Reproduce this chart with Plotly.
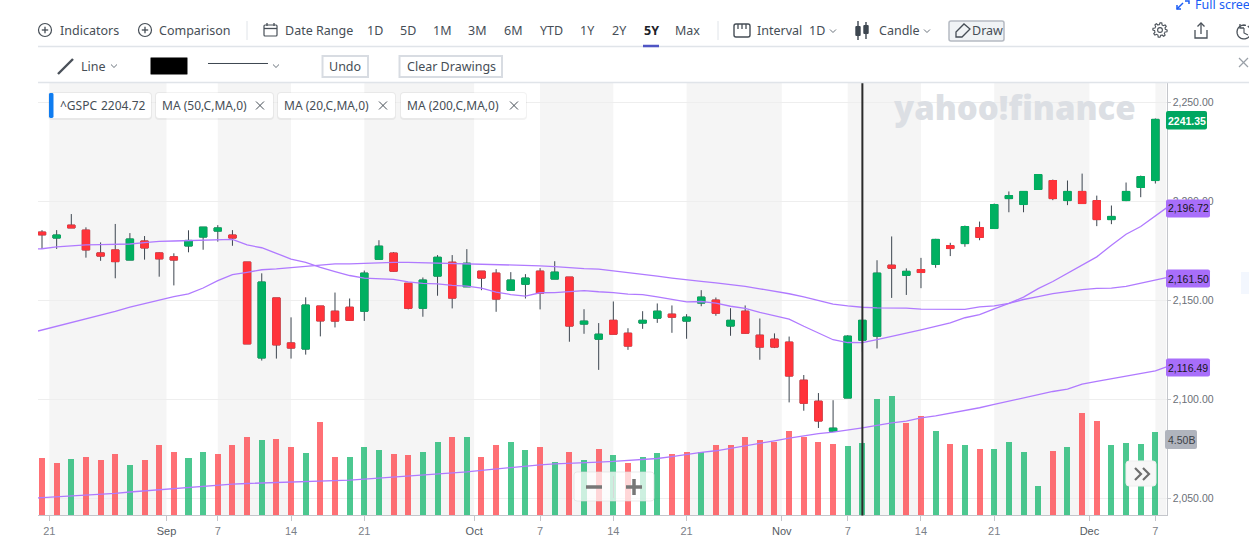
import math
import plotly.graph_objects as go

W, H = 1249, 555

# Values, one per trading day (19 Aug - 7 Dec 2016).
opens = [2184.5, 2181.5, 2188, 2185.5, 2174, 2175.5, 2170.4, 2180, 2174, 2172, 2177.5, 2182, 2185, 2183, 2169.4,
         2121, 2151.3, 2128.6, 2125.5, 2147.2, 2144.6, 2146.6, 2144.6, 2170.8, 2173.9, 2158.7, 2146.1, 2162.3,
         2169.3, 2156.9, 2164.8, 2163.8, 2155.2, 2158.2, 2164.8, 2160.8, 2161.8, 2138.1, 2130.5, 2140, 2133.5,
         2138.6, 2141.1, 2143.1, 2139.6, 2148.7, 2150.2, 2137.1, 2144.6, 2132.5, 2130.5, 2129, 2109.8, 2099.2,
         2084.1, 2100.8, 2130, 2132, 2167.8, 2162.7, 2165.6, 2168.2, 2177.7, 2178.7, 2186.8, 2186.3, 2201.4,
         2198.4, 2206, 2210.5, 2200.4, 2205, 2200.4, 2190.8, 2200.4, 2207, 2210.5]
highs = [2185.5, 2185.5, 2193.6, 2186.9, 2179.3, 2188.6, 2184, 2182.5, 2174.3, 2173.8, 2185.4, 2187, 2188, 2185.5,
         2169.4, 2163.7, 2151.3, 2141.5, 2151.6, 2147.2, 2154, 2151, 2165.1, 2180.4, 2174.4, 2158.7, 2161.6,
         2172.9, 2172.9, 2175.9, 2164.8, 2165.8, 2164.3, 2163.3, 2166.3, 2169.8, 2161.8, 2145.6, 2138.6, 2149.5,
         2136, 2144.6, 2148.5, 2147.5, 2143.1, 2155.2, 2151.5, 2146.1, 2147.5, 2140.9, 2133.4, 2131.8, 2112.4,
         2103.3, 2099.7, 2132.5, 2140, 2170.3, 2182.3, 2166.2, 2171.5, 2181.1, 2179.1, 2187.8, 2189.8, 2198.9,
         2205, 2205, 2213.5, 2211, 2210.5, 2214, 2202.9, 2197.9, 2209.5, 2213, 2241.8]
lows = [2176, 2176, 2186.6, 2171.6, 2170, 2161.2, 2170.4, 2170.6, 2162, 2157.6, 2174.3, 2175.6, 2179.7, 2177.6,
        2128.1, 2119.7, 2120.7, 2120.7, 2122.7, 2131.9, 2136.4, 2139.7, 2139.7, 2170.8, 2164.5, 2145.5, 2141.8,
        2152.4, 2146, 2156.9, 2155.2, 2144.3, 2155.2, 2151, 2145.5, 2160.8, 2129.2, 2133.2, 2115, 2133, 2125.1,
        2135.7, 2138.7, 2133.7, 2130.7, 2147.1, 2142.3, 2132.2, 2133.2, 2120.1, 2126, 2098.6, 2094.4, 2085.7,
        2084, 2100.8, 2124.1, 2125.8, 2151.3, 2152.8, 2156.2, 2166.5, 2172.4, 2177.1, 2180.4, 2186.3, 2194.5,
        2194.5, 2206, 2200.6, 2198.1, 2198.9, 2187.5, 2188.5, 2200.1, 2202.1, 2209]
closes = [2183.1, 2183, 2186.6, 2175.5, 2172.4, 2169.6, 2181, 2176.5, 2171, 2170.4, 2180.3, 2187, 2186.6, 2181.5,
          2128.1, 2159.3, 2127.6, 2126, 2147.7, 2139.7, 2139.6, 2140, 2163.8, 2177.4, 2164.8, 2146.1, 2160.3,
          2171.8, 2151.2, 2168.8, 2161.3, 2150.7, 2160.3, 2161.3, 2153.7, 2164.3, 2137.1, 2139.6, 2133, 2133,
          2127, 2140, 2144.6, 2141.6, 2141.6, 2151.7, 2143.6, 2140, 2133.5, 2126.5, 2126.5, 2111.9, 2098.2,
          2089.2, 2085.6, 2132, 2140, 2163.8, 2166.3, 2164.7, 2164.1, 2180.8, 2176.2, 2187.3, 2181.8, 2198.4,
          2202.9, 2205, 2213.5, 2201.4, 2205, 2198.9, 2190.8, 2192.4, 2205, 2212.5, 2241.35]

# Volume in billions, and the bar colour used for each day.
volumes = [3.11, 2.79, 3.05, 3.16, 2.95, 3.32, 2.68, 3.00, 3.76, 3.40, 3.11, 3.43, 3.32, 3.76, 4.24, 4.03, 4.13,
           3.65, 3.38, 5.05, 3.16, 3.16, 3.70, 3.54, 3.32, 3.22, 3.43, 3.92, 4.24, 4.19, 3.16, 3.76, 3.92, 3.49,
           3.65, 2.89, 3.43, 2.98, 3.59, 3.22, 2.84, 3.16, 3.38, 3.32, 3.43, 3.40, 3.76, 3.76, 4.19, 4.03, 3.92,
           4.56, 4.24, 3.92, 3.85, 3.74, 3.90, 6.25, 6.42, 4.98, 5.35, 4.55, 3.85, 3.79, 3.58, 3.58, 3.95, 3.41,
           1.58, 3.47, 3.68, 5.52, 5.09, 3.79, 3.90, 3.85, 4.50]
volume_dir = ("rrgrrrgrrrggrrrgrrgrrgggrrg"   # 19 Aug to 26 Sep
              "grgrrggrgrgrgrggrrgrrrrrrrr"   # to 4 Nov
              "rggggrrgrgrgggg"               # to 25 Nov
              "rgrrgggg")                     # to 7 Dec

# The MA lines span the whole plot, first and last points sit on its edges.
ma20 = [2176.0, 2176.1, 2177, 2177.7, 2178.1, 2178.2, 2178.2, 2178.5, 2179.2, 2179.8, 2180, 2180.2, 2180.3, 2180.5,
        2180.8, 2178, 2176.6, 2173.8, 2170.9, 2169.2, 2166.7, 2164.6, 2162.6, 2161.3, 2161.1, 2160.6, 2159.4, 2158.6,
        2158.4, 2157.6, 2157.2, 2156.2, 2154.2, 2153, 2152.2, 2153.9, 2154, 2154.5, 2155, 2154.4, 2154, 2153.2,
        2153, 2151.8, 2150.5, 2149.3, 2149.5, 2148.7, 2147.1, 2146, 2144, 2142.4, 2140.6, 2137, 2133.7, 2130.2,
        2128.8, 2128.7, 2130.3, 2131.8, 2133.5, 2135.2, 2137.1, 2138.7, 2141.3, 2142.9, 2145.8, 2148.5, 2151.7,
        2156, 2159.6, 2163.6, 2167.6, 2172, 2177.9, 2183.4, 2187.3, 2192.5, 2196.72]
ma50 = [2134.6, 2135.1, 2137, 2139, 2140.8, 2142.7, 2144.5, 2146.6, 2148.4, 2150.1, 2152, 2153.3, 2156.3, 2160, 2163,
        2164.2, 2165.5, 2165.9, 2166.6, 2167.2, 2168.1, 2168.5, 2168.5, 2168.7, 2169.2, 2169.2, 2169.2, 2169,
        2168.8, 2168.8, 2168.7, 2168.3, 2168, 2167.8, 2167.6, 2167.5, 2167.1, 2166.5, 2166.1, 2165.8, 2165,
        2163.9, 2163.1, 2162.3, 2161.3, 2160.3, 2159.6, 2158.9, 2158.1, 2157.1, 2155.9, 2154.7, 2153.4, 2151.8,
        2150, 2148.2, 2147.3, 2146.6, 2146.3, 2146.3, 2146.1, 2145.6, 2145.5, 2145.3, 2145.5, 2146.8, 2147.3,
        2148.5, 2150.5, 2152, 2153.5, 2154.5, 2155.5, 2156.1, 2156.2, 2157.1, 2158.6, 2160.4, 2161.5]
ma200 = [2050.4, 2050.5, 2051, 2051.3, 2051.8, 2052.2, 2052.7, 2053.4, 2054, 2054.5, 2055.2, 2055.9, 2056.4, 2056.9,
         2057.4, 2057.7, 2057.9, 2058.1, 2058.4, 2058.6, 2058.7, 2059.1, 2059.4, 2059.9, 2060.4, 2060.9, 2061.4,
         2061.9, 2062.6, 2063.1, 2063.6, 2064.3, 2065, 2065.8, 2066.6, 2067.1, 2067.6, 2068, 2068.3, 2068.5, 2068.8,
         2069.2, 2069.7, 2070.3, 2071.3, 2072.4, 2073.4, 2074.2, 2075.4, 2076.6, 2077.9, 2079.2, 2080.6, 2081.8,
         2082.8, 2083.6, 2084.6, 2085.8, 2087, 2088.3, 2089.2, 2090.8, 2091.8, 2093.2, 2094.4, 2095.9, 2097.6,
         2099.2, 2100.6, 2102.4, 2104.1, 2105.3, 2107.8, 2109.2, 2110.5, 2111.9, 2113.4, 2114.5, 2116.49]

# Axis ticks sit on trading-day positions, months fall between two sessions.
x_ticks = [0.5, 8.5, 12, 17, 22, 29.5, 34, 39, 44, 50.5, 55, 60, 65, 71.5, 76]
x_labels = ["21", "Sep", "7", "14", "21", "Oct", "7", "14", "21", "Nov", "7", "14", "21", "Dec", "7"]
y_ticks = [2050, 2100, 2150, 2200, 2250]

GREEN, RED, PURPLE = "#00b061", "#ff333a", "#b07aff"
DARK, TEXT, GRAY_LINE = "#3d4650", "#464e56", "#e0e4e9"

days = list(range(len(closes)))
x_left, x_right = -0.273, 76.76
ma_x = [x_left] + days + [x_right]


def px(x):
    return x / W


def py(y):
    return 1 - y / H


shapes = []
annots = []


def label(text, x, y, size=12.5, color=TEXT, anchor="left", font="Noto Sans", weight=None):
    if anchor == "left":
        x -= 1  # annotation padding
    fnt = dict(family=font, size=size, color=color)
    if weight:
        fnt["weight"] = weight
    annots.append(dict(text=text, x=px(x), y=py(y), xref="paper", yref="paper", showarrow=False,
                       xanchor=anchor, yanchor="middle", font=fnt))


def poly(points, color=TEXT, width=1.3, fill=None, closed=False):
    d = "M" + " L".join(f"{px(a):.5f},{py(b):.5f}" for a, b in points) + (" Z" if closed else "")
    shapes.append(dict(type="path", path=d, xref="paper", yref="paper", fillcolor=fill or "rgba(0,0,0,0)",
                       line=dict(color=color, width=width)))


def pill(x0, y0, x1, y1, fill="#ffffff", line=None, width=0, r=3):
    a, b, c, d = px(x0), py(y0), px(x1), py(y1)
    rx, ry = r / W, r / H
    p = (f"M{a + rx:.5f},{b:.5f} L{c - rx:.5f},{b:.5f} Q{c:.5f},{b:.5f} {c:.5f},{b - ry:.5f} "
         f"L{c:.5f},{d + ry:.5f} Q{c:.5f},{d:.5f} {c - rx:.5f},{d:.5f} L{a + rx:.5f},{d:.5f} "
         f"Q{a:.5f},{d:.5f} {a:.5f},{d + ry:.5f} L{a:.5f},{b - ry:.5f} Q{a:.5f},{b:.5f} {a + rx:.5f},{b:.5f} Z")
    shapes.append(dict(type="path", path=p, xref="paper", yref="paper", fillcolor=fill,
                       line=dict(color=line or "rgba(0,0,0,0)", width=width)))


def circle(cx, cy, r, color=TEXT, width=1.2, fill=None):
    shapes.append(dict(type="circle", xref="paper", yref="paper", x0=px(cx - r), x1=px(cx + r),
                       y0=py(cy + r), y1=py(cy - r), fillcolor=fill or "rgba(0,0,0,0)",
                       line=dict(color=color, width=width)))


def chevron(x, y):
    poly([(x - 3, y - 1.5), (x, y + 1.5), (x + 3, y - 1.5)], color="#6a737c", width=1)


def plus_icon(cx, cy):
    circle(cx, cy, 6.5)
    poly([(cx - 3.2, cy), (cx + 3.2, cy)])
    poly([(cx, cy - 3.2), (cx, cy + 3.2)])


# Weekly background stripes between alternating ticks.
stripe_edges = [(0.5, 8.5), (12, 17), (22, 29.5), (34, 39), (44, 50.5), (55, 60), (65, 71.5), (76, x_right)]
for a, b in stripe_edges:
    shapes.append(dict(type="rect", xref="x", yref="paper", x0=a, x1=b, y0=0.0712, y1=0.8505,
                       fillcolor="#f5f5f5", line=dict(width=0), layer="below"))

# Crosshair drawing at the election-day candle.
shapes.append(dict(type="line", xref="x", yref="paper", x0=56, x1=56, y0=0.0712, y1=0.8505,
                   line=dict(color="#2b2b2b", width=2)))

# Toolbar rules.
poly([(38, 46.5), (W, 46.5)], color=GRAY_LINE, width=1.5)
poly([(38, 82.5), (W, 82.5)], color=GRAY_LINE, width=1.5)
poly([(247, 21), (247, 40)], color=GRAY_LINE, width=1)
poly([(718, 21), (718, 40)], color=GRAY_LINE, width=1)

# Top toolbar.
plus_icon(45, 30)
label("Indicators", 59, 30)
plus_icon(145, 30)
label("Comparison", 158, 30)
pill(264, 25, 277, 36, fill="rgba(0,0,0,0)", line=TEXT, width=1.2, r=1)
poly([(264, 28.5), (277, 28.5)])
poly([(267, 23), (267, 26)])
poly([(274, 23), (274, 26)])
label("Date Range", 284, 30)
for text, x in [("1D", 375), ("5D", 408), ("1M", 442), ("3M", 477), ("6M", 513), ("YTD", 551), ("1Y", 587),
                ("2Y", 619), ("Max", 688)]:
    label(text, x, 30, anchor="center")
label("<b>5Y</b>", 651, 30, color="#1d2228", anchor="center")
poly([(643, 46), (659, 46)], color="#4f55c4", width=2.5)

pill(734, 24, 750, 37, fill="rgba(0,0,0,0)", line=TEXT, width=1.4, r=2)
for x in (738, 742, 746):
    poly([(x, 24), (x, 29)])
label("Interval", 756, 30)
label("1D", 808, 30)
chevron(833, 31)
for x, top, body_top, body_bot, bot in [(858, 21, 26, 36, 40), (866, 22, 25, 34, 39)]:
    poly([(x, top), (x, bot)], color="#3d4650", width=1.4)
    pill(x - 2.7, body_top, x + 2.7, body_bot, fill="#3d4650", r=1)
label("Candle", 878, 30)
chevron(927, 31)
pill(949, 21, 1004, 41, fill="#f0f3f5", line="#b5bac2", width=1.5, r=2)
poly([(956, 32), (964, 24), (970, 29), (962, 37), (956, 37)], closed=True)
label("Draw", 971, 30)

# Right hand icons.
gear = []
for i in range(48):
    r = 7.2 if (i // 3) % 2 == 0 else 5.4
    gear.append((1160 + r * math.cos(i * math.pi / 24), 30 + r * math.sin(i * math.pi / 24)))
poly(gear, closed=True, color="#4a5159", width=1.1)
circle(1160, 30, 2.4, color="#4a5159", width=1.1)
poly([(1195, 30), (1195, 38), (1207, 38), (1207, 30)], color="#4a5159")
poly([(1201, 34), (1201, 23)], color="#4a5159")
poly([(1197.5, 26.5), (1201, 23), (1204.5, 26.5)], color="#4a5159")
arc = [(1244 + 7 * math.cos(a / 10), 32 + 7 * math.sin(a / 10)) for a in range(-10, 52, 3)]
poly(arc, color="#4a5159")
poly([(1240, 24), (1240, 28), (1244, 28)], color="#4a5159")
poly([(1244, 28), (1244, 33), (1248, 35)], color="#4a5159", width=1.1)
poly([(1177, 9), (1183, 3)], color="#1a5cf5", width=1.5)
poly([(1177, 5), (1177, 9), (1181, 9)], color="#1a5cf5", width=1.5)
poly([(1185, 1), (1189, 1), (1189, 4)], color="#1a5cf5", width=1.5)
label("Full screen", 1194, 4, color="#1a5cf5")

# Drawing toolbar.
poly([(58, 74), (73, 59)], color="#4a5159", width=2.4)
label("Line", 80, 66)
chevron(114, 66)
pill(150, 57, 188, 75, fill="#000000", line="#ffffff", width=1, r=1)
poly([(208, 63.5), (268, 63.5)], color=DARK, width=1)
chevron(276, 66)
pill(322.5, 56, 368, 77, fill="#ffffff", line="#d8dce2", width=2, r=0)
label("Undo", 345, 66, anchor="center")
pill(399.5, 56, 502, 77, fill="#ffffff", line="#d8dce2", width=2, r=0)
label("Clear Drawings", 451, 66, anchor="center")
poly([(1239, 58), (1248, 67)], color="#9aa0a8", width=1.2)
poly([(1248, 58), (1239, 67)], color="#9aa0a8", width=1.2)

# Legend chips above the plot.
for x0, x1 in [(49, 151), (156, 273), (278, 395), (401, 526)]:
    pill(x0 - 1, 92, x1 + 1, 120, fill="rgba(0,0,0,0.05)", r=4)
    pill(x0, 93, x1, 118, fill="#ffffff", r=3)
pill(49, 93, 53.5, 118, fill="#0f7cf0", r=1.5)
label("^GSPC", 59, 105.5, size=12)
label("2204.72", 100, 105.5, size=12)
for text, x, xc in [("MA (50,C,MA,0)", 161, 260), ("MA (20,C,MA,0)", 283, 383), ("MA (200,C,MA,0)", 406, 514)]:
    label(text, x, 105.5, size=12)
    poly([(xc - 4, 101.5), (xc + 4, 109.5)], width=1)
    poly([(xc + 4, 101.5), (xc - 4, 109.5)], width=1)

# Watermark.
label("yahoo!finance", 1014, 107, size=33, color="#dcdfe4", anchor="center", font="Open Sans", weight=800)

# Last-value tags on the price axis.
pill(1166, 111, 1207, 129.5, fill="#00a661", r=2)
label("<b>2241.35</b>", 1186.5, 120.5, size=10.5, color="#ffffff", anchor="center", font="Liberation Sans")
for y, value in [(208.5, ma20[-1]), (278.5, ma50[-1]), (367.5, ma200[-1])]:
    pill(1166, y - 9, 1210, y + 9, fill="#a86efa", r=2)
    label(f"{value:,.2f}", 1188, y, size=10.5, color="#16161a", anchor="center", font="Liberation Sans")
pill(1165, 430, 1197, 449, fill="#b0b4bd", r=2)
label("4.50B", 1181, 439.5, size=10.5, color="#3c4046", anchor="center", font="Liberation Sans")
pill(1241, 272, 1249, 294, fill="#f3f7fe", r=0)

# Zoom buttons and the scroll-forward button over the volume bars.
pill(574, 472, 654, 501, fill="rgba(255,255,255,0.72)", line="rgba(220,220,220,0.6)", width=1, r=3)
poly([(586, 487), (602, 487)], color="#777777", width=3.5)
poly([(613.5, 476), (613.5, 498)], color="#d8d8d8", width=1)
poly([(626, 487), (642, 487)], color="#777777", width=3.5)
poly([(634, 479), (634, 495)], color="#777777", width=3.5)
pill(1126, 461, 1156, 486, fill="#f7f7f7", line="#eeeeee", width=1, r=3)
for x in (1135, 1143):
    poly([(x, 468), (x + 6, 474), (x, 480)], color="#6e6e6e", width=2.2)

fig = go.Figure()

# Volume goes on the base axis so that candles and averages draw over it.
fig.add_trace(go.Bar(x=days, y=volumes, width=0.41, name="Volume", yaxis="y",
                     marker=dict(color=[GREEN if d == "g" else RED for d in volume_dir], opacity=0.7, line_width=0)))

# Wicks: full range candles in dark grey, then the coloured bodies on top.
fig.add_trace(go.Candlestick(x=days, open=opens, high=highs, low=lows, close=closes, name="^GSPC wicks",
                             yaxis="y2", whiskerwidth=0,
                             increasing=dict(line=dict(color=DARK, width=1), fillcolor=DARK),
                             decreasing=dict(line=dict(color=DARK, width=1), fillcolor=DARK)))
fig.add_trace(go.Candlestick(x=days, open=opens, close=closes,
                             high=[max(o, c) for o, c in zip(opens, closes)],
                             low=[min(o, c) for o, c in zip(opens, closes)],
                             name="^GSPC", yaxis="y2", whiskerwidth=0,
                             increasing=dict(line=dict(color=GREEN, width=1), fillcolor=GREEN),
                             decreasing=dict(line=dict(color=RED, width=1), fillcolor=RED)))

for name, values in [("MA (20,C,MA,0)", ma20), ("MA (50,C,MA,0)", ma50), ("MA (200,C,MA,0)", ma200)]:
    fig.add_trace(go.Scatter(x=ma_x, y=values, mode="lines", name=name, yaxis="y2",
                             line=dict(color=PURPLE, width=1.3)))

# Month names are a bit darker than the day numbers.
tick_text = [f'<span style="color:#555b62">{t}</span>' if t.isalpha() else t for t in x_labels]

fig.update_layout(
    width=W, height=H,
    margin=dict(l=0, r=0, t=0, b=0),
    paper_bgcolor="white", plot_bgcolor="white",
    showlegend=False, boxgap=0.28, bargap=0,
    xaxis=dict(domain=[px(38), px(1166.5)], range=[x_left, x_right], rangeslider=dict(visible=False),
               tickmode="array", tickvals=x_ticks, ticktext=tick_text, showgrid=False, zeroline=False,
               showline=True, linecolor="#c4c6cb", linewidth=1.2, ticks="outside", ticklen=5, tickcolor="#c4c6cb",
               tickfont=dict(family="Liberation Sans", size=11, color="#7b8087")),
    yaxis=dict(domain=[py(515.2), py(83)], range=[0, 23.3], visible=False),
    yaxis2=dict(overlaying="y", side="right", anchor="x", range=[2041.7, 2259.7], tickmode="array",
                tickvals=y_ticks, tickformat=",.2f", showgrid=True, gridcolor="#eeeeee", zeroline=False,
                showline=True, linecolor="#c4c6cb", linewidth=1.2, ticks="outside", ticklen=3, tickcolor="#c4c6cb",
                tickfont=dict(family="Liberation Sans", size=10.5, color="#6b7077")),
    shapes=shapes,
    annotations=annots,
)

fig.write_html("out.html", config=dict(displayModeBar=False),
               post_script="document.body.style.margin='0';document.body.style.overflow='hidden';")
